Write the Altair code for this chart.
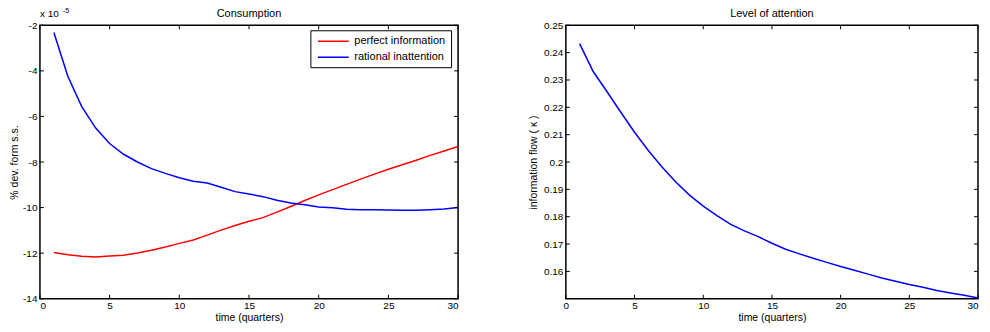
import altair as alt
import pandas as pd

# ---------------- data ----------------
time = list(range(1, 31))
perfect_information = [-11.97, -12.07, -12.14, -12.17, -12.13, -12.09, -11.99, -11.87, -11.73, -11.57,
                       -11.42, -11.21, -10.99, -10.79, -10.60, -10.44, -10.20, -9.95, -9.69, -9.44,
                       -9.21, -8.98, -8.75, -8.53, -8.32, -8.12, -7.92, -7.71, -7.52, -7.32]
rational_inattention = [-2.32, -4.24, -5.57, -6.51, -7.19, -7.66, -8.00, -8.29, -8.50, -8.69,
                        -8.84, -8.92, -9.11, -9.30, -9.40, -9.52, -9.68, -9.80, -9.88, -9.97,
                        -10.01, -10.07, -10.09, -10.10, -10.11, -10.12, -10.12, -10.09, -10.06, -10.00]
attention = [0.2433, 0.2330, 0.2257, 0.2182, 0.2109, 0.2042, 0.1982, 0.1927, 0.1879, 0.1839,
             0.1804, 0.1772, 0.1748, 0.1727, 0.1703, 0.1681, 0.1664, 0.1648, 0.1633, 0.1618,
             0.1604, 0.1590, 0.1576, 0.1564, 0.1552, 0.1542, 0.1530, 0.1521, 0.1513, 0.1503]

series_names = ["perfect information", "rational inattention"]
series_colors = ["#ff0000", "#0000ff"]

x_ticks = [0, 5, 10, 15, 20, 25, 30]
cons_ticks = [-14, -12, -10, -8, -6, -4, -2]
att_ticks = [0.16, 0.17, 0.18, 0.19, 0.2, 0.21, 0.22, 0.23, 0.24, 0.25]

titles = ["Consumption", "Level of attention"]

FONT = "Liberation Sans"
W1, W2, H = 419, 413, 274
TL = 4  # inner tick length

cons_df = pd.DataFrame({
    "time": time + time,
    "value": perfect_information + rational_inattention,
    "series": [series_names[0]] * len(time) + [series_names[1]] * len(time),
})
att_df = pd.DataFrame({"time": time, "value": attention})

xscale = alt.Scale(domain=[0, 30], nice=False, zero=False)
xaxis_l = alt.Axis(values=x_ticks, title="time (quarters)", labelExpr="'' + datum.value")
xaxis_r = alt.Axis(values=x_ticks, title="time (quarters)", labelExpr="'' + datum.value",
                   labelAlign={"condition": {"test": "datum.value == 30", "value": "right"},
                               "value": "center"})


def inner_ticks(xaxis, yvals, yscale, yaxis, width):
    xt = pd.DataFrame({"v": x_ticks})
    yt = pd.DataFrame({"v": yvals})
    xs = alt.X("v:Q", scale=xscale, axis=xaxis)
    ys = alt.Y("v:Q", scale=yscale, axis=yaxis)
    bottom = alt.Chart(xt).mark_rule(color="black", strokeWidth=1).encode(
        x=xs, y=alt.value(H - TL), y2=alt.value(H))
    top = alt.Chart(xt).mark_rule(color="black", strokeWidth=1).encode(
        x=xs, y=alt.value(0), y2=alt.value(TL))
    left = alt.Chart(yt).mark_rule(color="black", strokeWidth=1).encode(
        y=ys, x=alt.value(0), x2=alt.value(TL))
    right = alt.Chart(yt).mark_rule(color="black", strokeWidth=1).encode(
        y=ys, x=alt.value(width - TL), x2=alt.value(width))
    return [bottom, top, left, right]


def title_mark(text, width):
    return alt.Chart(pd.DataFrame({"t": [text]})).mark_text(
        align="center", baseline="alphabetic", fontSize=11, font=FONT, color="black"
    ).encode(text="t:N", x=alt.value(width / 2), y=alt.value(-8))


# ---------------- left panel ----------------
cscale = alt.Scale(domain=[-14, -2], nice=False, zero=False)
caxis = alt.Axis(values=cons_ticks, title="% dev. form s.s.", labelExpr="'' + datum.value",
                 titlePadding=3)
cons_lines = alt.Chart(cons_df).mark_line(strokeWidth=1.5).encode(
    x=alt.X("time:Q", scale=xscale, axis=xaxis_l),
    y=alt.Y("value:Q", scale=cscale, axis=caxis),
    color=alt.Color("series:N",
                    scale=alt.Scale(domain=series_names, range=series_colors),
                    legend=alt.Legend(title=None, orient="none", legendX=271, legendY=5,
                                      strokeColor="black", fillColor="white", padding=5,
                                      symbolType="M-3.1,0H3.1", symbolSize=100, symbolStrokeWidth=1.5,
                                      symbolOffset=12,
                                      labelFontSize=11, labelFont=FONT, labelColor="black",
                                      labelOffset=15, rowPadding=5)),
)

exp_df = pd.DataFrame({"t": ["x 10"]})
sup_df = pd.DataFrame({"t": ["-5"]})
exp_text = alt.Chart(exp_df).mark_text(align="left", baseline="alphabetic", fontSize=10,
                                       font=FONT, color="black").encode(
    text="t:N", x=alt.value(0), y=alt.value(-8))
sup_text = alt.Chart(sup_df).mark_text(align="left", baseline="alphabetic", fontSize=7,
                                       font=FONT, color="black").encode(
    text="t:N", x=alt.value(23), y=alt.value(-12))

left = alt.layer(cons_lines, *inner_ticks(xaxis_l, cons_ticks, cscale, caxis, W1), exp_text, sup_text,
                 title_mark(titles[0], W1)).properties(width=W1, height=H)

# ---------------- right panel ----------------
ascale = alt.Scale(domain=[0.15, 0.25], nice=False, zero=False)
aaxis = alt.Axis(values=att_ticks, title="information flow ( κ )", labelExpr="'' + datum.value",
                 titlePadding=5)
att_line = alt.Chart(att_df).mark_line(strokeWidth=1.5, color="#0000ff").encode(
    x=alt.X("time:Q", scale=xscale, axis=xaxis_r),
    y=alt.Y("value:Q", scale=ascale, axis=aaxis),
)
right = alt.layer(att_line, *inner_ticks(xaxis_r, att_ticks, ascale, aaxis, W2),
                  title_mark(titles[1], W2)).properties(width=W2, height=H)

chart = alt.hconcat(left, right, spacing=108, bounds="flush").properties(
    padding={"left": 0, "top": -2, "right": 0, "bottom": 0}, background="white"
).configure_view(
    stroke="black", strokeWidth=1.5
).configure_axis(
    grid=False, domain=False, ticks=False,
    labelFont=FONT, labelFontSize=10, labelColor="black",
    titleFont=FONT, titleFontSize=10.5, titleFontWeight="normal", titleColor="black",
).configure_axisX(
    labelPadding=2, titlePadding=2
).configure_axisY(
    labelPadding=3
)

chart.save("out.html", embed_options={"renderer": "svg", "actions": False})
